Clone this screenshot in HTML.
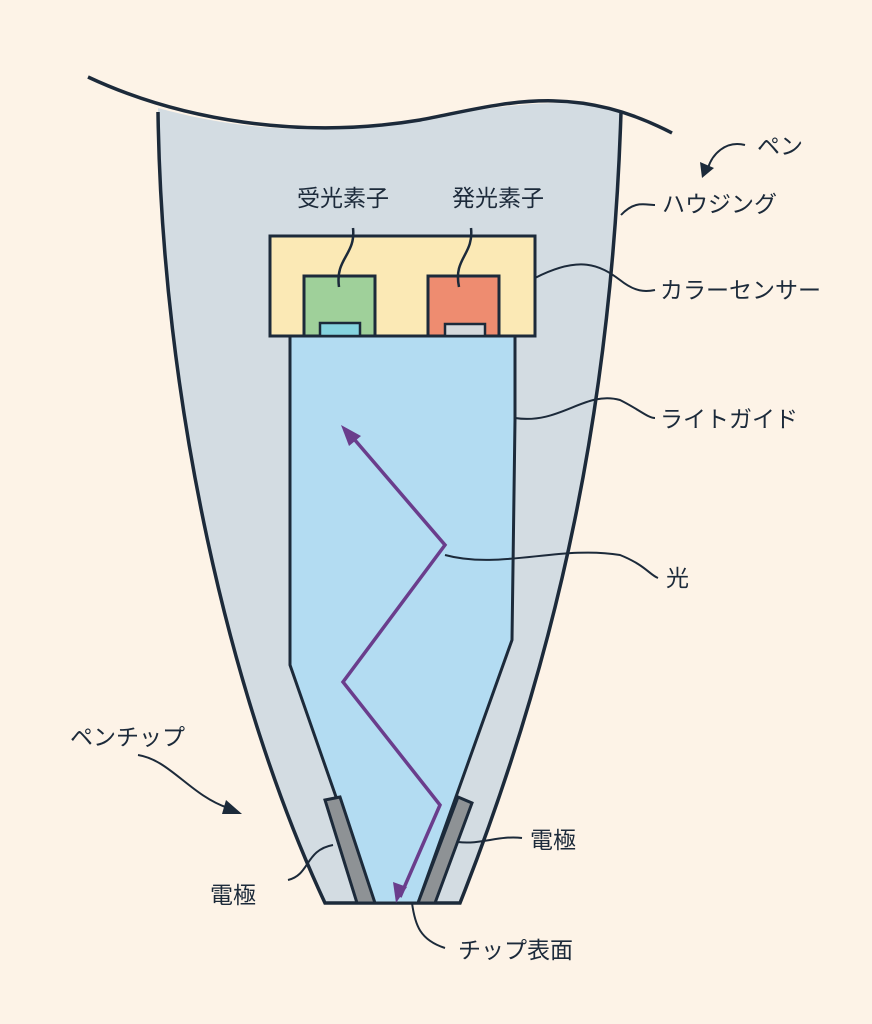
<!DOCTYPE html>
<html><head><meta charset="utf-8"><style>
html,body{margin:0;padding:0;background:#fdf3e7;}
svg{display:block}
text{font-family:"Liberation Sans","Noto Sans CJK JP",sans-serif;font-size:23px;fill:#1c2a3a}
</style></head><body>
<svg width="872" height="1024" viewBox="0 0 872 1024">
<rect width="872" height="1024" fill="#fdf3e7"/>
<!-- housing -->
<path d="M158,108 C230,128 320,138 420,120 C500,105 570,95 621,112 C612,400 560,650 460,903 L325,903 C230,700 162,400 158,108 Z" fill="#d3dce2"/>
<path d="M158,112 C162,400 230,700 325,903 L460,903 C560,650 612,400 621,112" fill="none" stroke="#1c2a3a" stroke-width="3.5"/>
<path d="M88,77 C180,120 300,140 420,120 C500,105 570,80 672,133" fill="none" stroke="#1c2a3a" stroke-width="3.5"/>
<!-- light guide -->
<path d="M290,336 L515,336 L515,420 C514,500 513,580 512,640 L418,903 L373,903 L290,665 Z" fill="#b3dcf2" stroke="#1c2a3a" stroke-width="3"/>
<!-- electrodes -->
<path d="M325,800 L340,797 L375,903 L357,903 Z" fill="#8e9295" stroke="#1c2a3a" stroke-width="3"/>
<path d="M458,797 L472,803 L435,903 L418,903 Z" fill="#8e9295" stroke="#1c2a3a" stroke-width="3"/>
<!-- sensor -->
<rect x="270" y="236" width="265" height="100" fill="#fbe9b5" stroke="#1c2a3a" stroke-width="3"/>
<rect x="304" y="276" width="71" height="60" fill="#9fd09a" stroke="#1c2a3a" stroke-width="3"/>
<rect x="320" y="323" width="40" height="13" fill="#86d4e0" stroke="#1c2a3a" stroke-width="2.5"/>
<rect x="428" y="276" width="71" height="60" fill="#ee8c70" stroke="#1c2a3a" stroke-width="3"/>
<rect x="445" y="324" width="40" height="12" fill="#d5d9dc" stroke="#1c2a3a" stroke-width="2.5"/>
<path d="M353,228 C356,255 335,258 339,287" fill="none" stroke="#1c2a3a" stroke-width="2.5"/>
<path d="M471,228 C474,255 453,258 459,287" fill="none" stroke="#1c2a3a" stroke-width="2.5"/>
<!-- light path -->
<polyline points="400,897 440,805 343,682 445,545 348,432" fill="none" stroke="#6a3d8c" stroke-width="3.5"/>
<polygon points="341,425 361,436 349,446" fill="#6a3d8c"/>
<polygon points="396,903 393,882 407,887" fill="#6a3d8c"/>
<!-- leaders -->
<g fill="none" stroke="#1c2a3a" stroke-width="2">
<path d="M535,278 C580,255 600,265 620,280 C635,292 645,292 655,290"/>
<path d="M621,215 C635,200 645,205 655,205"/>
<path d="M515,418 C560,425 585,390 620,400 C640,410 648,418 655,418"/>
<path d="M445,555 C500,570 560,545 620,555 C645,565 650,575 658,578"/>
<path d="M458,842 C480,845 500,835 522,838"/>
<path d="M333,845 C305,850 310,875 288,880"/>
<path d="M412,903 C415,925 420,940 445,948"/>
<path d="M745,145 C725,140 712,155 708,168"/>
<path d="M138,755 C170,760 190,795 228,808"/>
</g>
<polygon points="702,178 700,162 714,168" fill="#1c2a3a"/>
<polygon points="242,814 226,800 222,814" fill="#1c2a3a"/>
<!-- labels -->
<text x="297" y="206">受光素子</text>
<text x="452" y="206">発光素子</text>
<text x="757" y="154">ペン</text>
<text x="662" y="212">ハウジング</text>
<text x="660" y="298">カラーセンサー</text>
<text x="660" y="427">ライトガイド</text>
<text x="666" y="586">光</text>
<text x="70" y="745">ペンチップ</text>
<text x="530" y="848">電極</text>
<text x="210" y="903">電極</text>
<text x="458" y="958">チップ表面</text>
</svg>
</body></html>
